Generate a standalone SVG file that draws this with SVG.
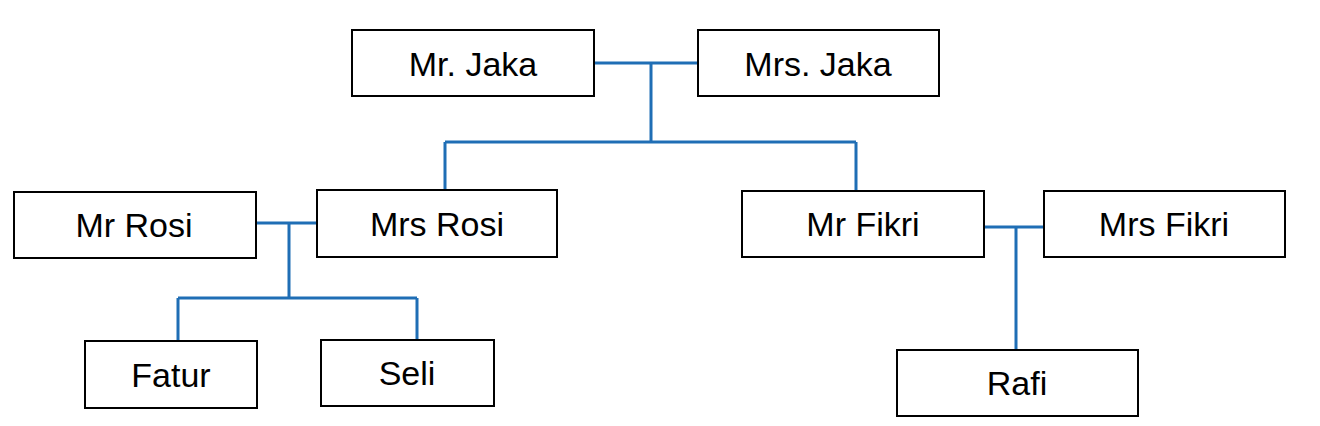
<svg xmlns="http://www.w3.org/2000/svg" width="1320" height="426" viewBox="0 0 1320 426">
<style>
.box{fill:#fff;stroke:#000;stroke-width:2}
.lbl{font-family:"Liberation Sans",Arial,sans-serif;font-size:34px;fill:#000;text-anchor:middle}
.con{fill:none;stroke:#1f6eb5;stroke-width:3}
</style>
<rect width="1320" height="426" fill="#fff"/>
<g id="connectors">
<path class="con" d="M594,63 H698 M651,63 V142 M445,142 H856 M445,142 V190 M856,142 V191"/>
<path class="con" d="M256,223 H317 M289,223 V298 M178,298 H417 M178,298 V341 M417,298 V340"/>
<path class="con" d="M984,227 H1044 M1016,227 V350"/>
</g>
<g id="mr-jaka"><rect class="box" x="352" y="30" width="242" height="66"/><text class="lbl" x="473" y="76">Mr. Jaka</text></g>
<g id="mrs-jaka"><rect class="box" x="698" y="30" width="241" height="66"/><text class="lbl" x="818" y="76">Mrs. Jaka</text></g>
<g id="mr-rosi"><rect class="box" x="14" y="192" width="242" height="66"/><text class="lbl" x="134" y="237">Mr Rosi</text></g>
<g id="mrs-rosi"><rect class="box" x="317" y="190" width="240" height="67"/><text class="lbl" x="437" y="236">Mrs Rosi</text></g>
<g id="mr-fikri"><rect class="box" x="742" y="191" width="242" height="66"/><text class="lbl" x="863" y="236">Mr Fikri</text></g>
<g id="mrs-fikri"><rect class="box" x="1044" y="191" width="241" height="66"/><text class="lbl" x="1164" y="236">Mrs Fikri</text></g>
<g id="fatur"><rect class="box" x="85" y="341" width="172" height="67"/><text class="lbl" x="171" y="387">Fatur</text></g>
<g id="seli"><rect class="box" x="321" y="340" width="173" height="66"/><text class="lbl" x="407" y="385">Seli</text></g>
<g id="rafi"><rect class="box" x="897" y="350" width="241" height="66"/><text class="lbl" x="1017" y="395">Rafi</text></g>
</svg>
